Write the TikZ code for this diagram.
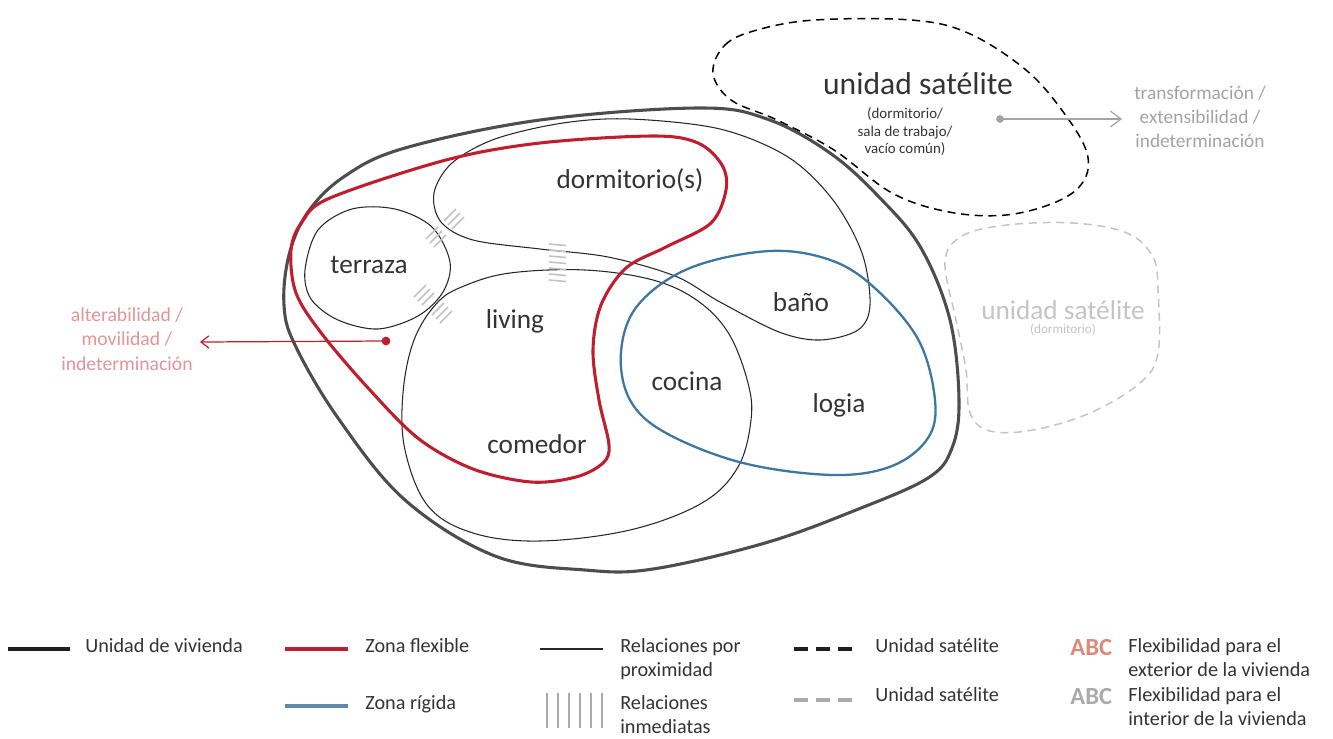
\documentclass[tikz,border=0pt]{standalone}
\usepackage{fontspec}
\setmainfont{Carlito}
\usetikzlibrary{arrows.meta}
\tikzstyle{every picture}=[line join=round]
\definecolor{unitgray}{HTML}{4D4D4D}
\definecolor{flexred}{HTML}{BE1E2D}
\definecolor{rigidblue}{HTML}{3C77A2}
\definecolor{legblue}{HTML}{5E88AC}
\definecolor{textdark}{HTML}{333333}
\definecolor{pinktext}{HTML}{E3939A}
\definecolor{greytext}{HTML}{A3A3A3}
\definecolor{lightsat}{HTML}{C4C4C4}
\definecolor{markgray}{HTML}{C2C2C2}
\definecolor{abcred}{HTML}{DC8A78}
\definecolor{abcgray}{HTML}{AAAAAA}

\tikzset{
  unidad/.style={draw=unitgray,line width=1.75pt},
  flexible/.style={draw=flexred,line width=1.75pt},
  rigida/.style={draw=rigidblue,line width=1.3pt},
  proxim/.style={draw=black!85,line width=0.6pt},
  satdash/.style={dash pattern=on 4.6pt off 3.2pt,line width=0.85pt},
  relmark/.style={draw=markgray,line width=0.9pt},
  room/.style={font=\fontsize{15.5}{18}\selectfont,text=textdark,anchor=base},
  legtext/.style={font=\fontsize{11.5}{13.6}\selectfont,text=textdark,anchor=base west,align=left,inner sep=0pt},
  abc/.style={font=\fontsize{14}{16}\selectfont\bfseries,anchor=base west,inner sep=0pt},
}

\begin{document}
\begin{tikzpicture}[x=0.02cm,y=-0.02cm]
\useasboundingbox (0,0) rectangle (1333,738);

% satellite units
\draw[satdash,black] plot[smooth cycle,tension=0.6] coordinates{
  (713,73) (725,45) (757,30) (815,20) (911,20) (968,33) (1026,70)
  (1064,113) (1087,153) (1083,182) (1056,202) (1006,215) (949,212)
  (892,193) (834,150) (777,120) (731,100)};
\draw[satdash,lightsat] plot[smooth cycle,tension=0.6] coordinates{
  (945,262) (962,236) (1007,225) (1073,223) (1127,233) (1153,257)
  (1158,290) (1158,353) (1140,383) (1090,413) (1033,430) (990,431)
  (970,413) (966,370) (956,320)};

% vivienda
\draw[unidad] plot[smooth cycle,tension=0.6] coordinates{
  (284,305) (289,255) (308,212) (345,176) (405,148) (540,120) (698,108)
  (767,119) (830,153) (880,198) (921,248) (950,320) (959,400) (952,448)
  (928,478) (856,510) (765,543) (653,569) (585,570) (495,556) (405,500)
  (338,418) (295,345)};

% relaciones por proximidad
\draw[proxim] plot[smooth cycle,tension=0.55] coordinates{
  (305,270) (318,230) (352,209) (395,209) (432,227) (450,262) (443,292)
  (418,316) (378,329) (338,320) (311,299)};
\draw[proxim] plot[smooth cycle,tension=0.55] coordinates{
  (434,193) (452,163) (495,139) (563,123) (630,119) (720,129) (788,157)
  (833,200) (862,253) (870,305) (858,330) (820,340) (779,332) (720,302)
  (675,276) (608,257) (540,249) (473,240) (441,222)};
\draw[proxim] plot[smooth cycle,tension=0.6] coordinates{
  (464,286) (510,273) (585,270) (653,280) (698,301) (729,334) (748,383)
  (751,420) (738,467) (702,503) (630,530) (540,541) (473,533) (428,506)
  (405,450) (403,393) (414,340) (437,303)};

% zonas
\draw[flexible] plot[smooth cycle,tension=0.55] coordinates{
  (291,250) (302,222) (330,198) (446,160) (540,143) (653,136) (698,143)
  (722,165) (726,190) (711,223) (666,247) (626,268) (601,305) (593,350)
  (599,400) (609,445) (603,463) (576,477) (531,482) (473,469) (419,439)
  (369,389) (322,334) (296,293)};
\draw[rigida] plot[smooth cycle,tension=0.6] coordinates{
  (770,251) (833,261) (878,291) (919,341) (935,400) (928,438) (892,466)
  (833,475) (743,463) (666,433) (630,400) (621,352) (638,305) (690,268)};

% relaciones inmediatas
\foreach \cx/\cy in {454/219, 436/237, 424/295, 442/313}
  \foreach \d in {-4,0,4}
    \draw[relmark] (\cx+\d-6,\cy+\d+6) -- (\cx+\d+6,\cy+\d-6);
\foreach \yy in {244,250,...,280}
  \draw[relmark] (549,\yy) -- (566,\yy+1.5);

% recintos
\node[room] (terraza) at (369,273) {terraza};
\node[room] (dormitorio) at (630,188) {dormitorio(s)};
\node[room] (living) at (515,328) {living};
\node[room] (comedor) at (537,453) {comedor};
\node[room] (bano) at (801,311) {baño};
\node[room] (cocina) at (687,390) {cocina};
\node[room] (logia) at (839,412) {logia};

\node[room,font=\fontsize{18}{20}\selectfont] (satA) at (918,94) {unidad satélite};
\node[text=textdark,font=\fontsize{8.5}{10.2}\selectfont,align=center,anchor=north]
  (satAsub) at (905,101) {(dormitorio/\\sala de trabajo/\\vacío común)};
\node[room,text=lightsat] (satB) at (1063,319) {unidad satélite};
\node[text=lightsat,font=\fontsize{7.5}{9}\selectfont] (satBsub) at (1063,330) {(dormitorio)};

% flexibilidad
\node[text=greytext,font=\fontsize{11}{13.6}\selectfont,align=center]
  (extens) at (1200,117) {transformación /\\extensibilidad /\\indeterminación};
\fill[greytext] (1000,119) circle (2.2pt) coordinate (extDot);
\coordinate (extTip) at (1122,119);
\draw[greytext,line width=0.7pt,-{Straight Barb[length=6pt,width=9pt]}] (extDot) -- (extTip);

\node[text=pinktext,font=\fontsize{11.2}{13.9}\selectfont,align=center]
  (alter) at (127,339) {alterabilidad /\\movilidad /\\indeterminación};
\fill[flexred] (386,341) circle (2.5pt) coordinate (alterDot);
\coordinate (alterTip) at (200,342);
\draw[flexred,line width=0.7pt,-{Straight Barb[length=4.5pt,width=7pt]}] (alterDot) -- (alterTip);

% leyenda
\draw[line width=2.6pt,black!88] (8,649) -- (70,649);
\node[legtext] (legUnidad) at (85,652) {Unidad de vivienda};
\draw[line width=2.6pt,flexred] (285,649) -- (348,649);
\node[legtext] (legFlex) at (365,652) {Zona flexible};
\draw[line width=2.6pt,legblue] (285,706) -- (348,706);
\node[legtext] (legRigida) at (365,709) {Zona rígida};
\draw[line width=1.1pt,black!85] (540,649) -- (603,649);
\node[legtext] (legProx) at (620,676) {Relaciones por\\proximidad};
\foreach \xx in {547,558,...,603}
  \draw[line width=1.6pt,abcgray] (\xx,693) -- (\xx,728);
\node[legtext] (legInmed) at (620,733) {Relaciones\\inmediatas};
\draw[line width=2.6pt,black!88,dash pattern=on 8pt off 4.5pt] (794,649) -- (858,649);
\node[legtext] (legSatA) at (875,652) {Unidad satélite};
\draw[line width=2.6pt,abcgray,dash pattern=on 8pt off 4.5pt] (794,700) -- (858,700);
\node[legtext] (legSatB) at (875,701) {Unidad satélite};
\node[abc,text=abcred] (abcExt) at (1070,655) {ABC};
\node[legtext] (legExt) at (1128,676) {Flexibilidad para el\\exterior de la vivienda};
\node[abc,text=abcgray] (abcInt) at (1070,704) {ABC};
\node[legtext] (legInt) at (1128,725) {Flexibilidad para el\\interior de la vivienda};
\end{tikzpicture}
\end{document}
